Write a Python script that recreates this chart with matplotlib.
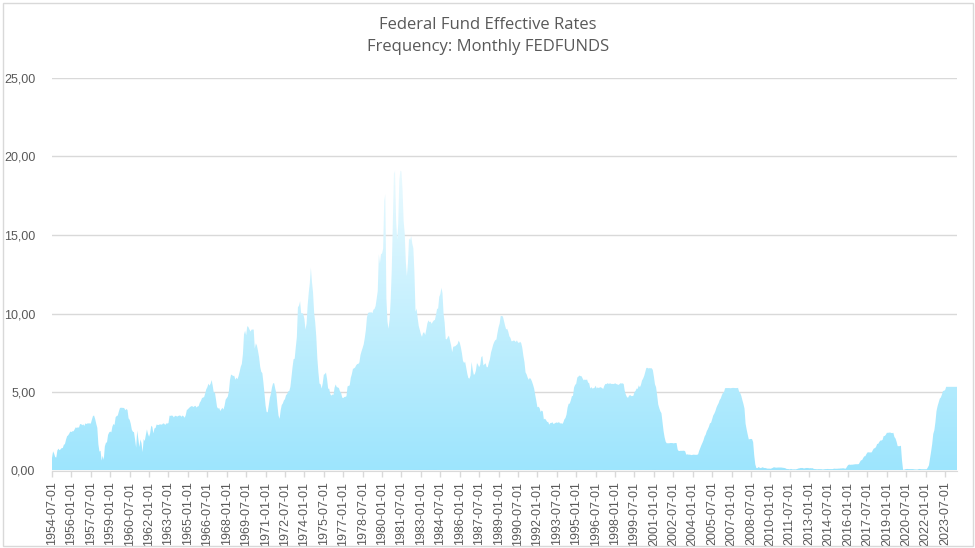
import numpy as np
import pandas as pd
import matplotlib
matplotlib.use("Agg")
import matplotlib.pyplot as plt
from matplotlib.colors import LinearSegmentedColormap
from matplotlib.patches import Rectangle
from matplotlib.ticker import FuncFormatter

# Monthly effective federal funds rate (percent)
fed_1950s = [
    0.80, 1.22, 1.07, 0.85, 0.83, 1.28,
    1.39, 1.29, 1.35, 1.43, 1.43, 1.64, 1.68, 1.96, 2.18, 2.24, 2.35, 2.48,
    2.45, 2.50, 2.50, 2.62, 2.75, 2.71, 2.75, 2.73, 2.95, 2.96, 2.88, 2.94,
    2.84, 3.00, 2.96, 3.00, 3.00, 3.00, 2.99, 3.24, 3.47, 3.50, 3.28, 2.98,
    2.72, 1.67, 1.20, 1.26, 0.63, 0.93, 0.68, 1.53, 1.76, 1.80, 2.27, 2.42,
    2.48, 2.43, 2.80, 2.96, 2.90, 3.39, 3.47, 3.50, 3.76, 3.98, 4.00, 3.99,
]
fed_1960s = [
    3.99, 3.97, 3.84, 3.92, 3.85, 3.32, 3.23, 2.98, 2.60, 2.47, 2.44, 1.98,
    1.45, 2.54, 2.02, 1.49, 1.98, 1.73, 1.17, 2.00, 1.88, 2.26, 2.61, 2.33,
    2.15, 2.37, 2.85, 2.78, 2.36, 2.68, 2.71, 2.93, 2.90, 2.90, 2.94, 2.93,
    2.92, 3.00, 2.98, 2.90, 3.00, 2.99, 3.02, 3.49, 3.48, 3.50, 3.48, 3.38,
    3.48, 3.48, 3.43, 3.47, 3.50, 3.50, 3.42, 3.50, 3.45, 3.36, 3.52, 3.85,
    3.90, 3.98, 4.04, 4.09, 4.10, 4.04, 4.09, 4.12, 4.01, 4.08, 4.10, 4.32,
    4.42, 4.60, 4.65, 4.67, 4.90, 5.17, 5.30, 5.53, 5.40, 5.53, 5.76, 5.40,
    4.94, 5.00, 4.53, 4.05, 3.94, 3.98, 3.79, 3.90, 3.99, 3.88, 4.13, 4.51,
    4.61, 4.71, 5.05, 5.76, 6.11, 6.07, 6.02, 6.03, 5.78, 5.91, 5.82, 6.02,
    6.30, 6.61, 6.79, 7.41, 8.67, 8.90, 8.61, 9.19, 9.15, 9.00, 8.85, 8.97,
]
fed_1970s = [
    8.98, 8.98, 7.76, 8.10, 7.95, 7.61, 7.21, 6.61, 6.29, 6.20, 5.60, 4.90,
    4.14, 3.72, 3.71, 4.16, 4.63, 4.91, 5.31, 5.56, 5.55, 5.20, 4.91, 4.14,
    3.50, 3.29, 3.83, 4.17, 4.27, 4.46, 4.55, 4.80, 4.87, 5.04, 5.06, 5.33,
    5.94, 6.58, 7.09, 7.12, 7.84, 8.49, 10.40, 10.50, 10.78, 10.01, 10.03, 9.95,
    9.65, 8.97, 9.35, 10.51, 11.31, 11.93, 12.92, 12.01, 11.34, 10.06, 9.45, 8.53,
    7.13, 6.24, 5.54, 5.49, 5.22, 5.55, 6.10, 6.14, 6.24, 5.82, 5.22, 5.20,
    4.87, 4.77, 4.84, 4.82, 5.29, 5.48, 5.31, 5.29, 5.25, 5.03, 4.95, 4.65,
    4.61, 4.68, 4.69, 4.73, 5.35, 5.39, 5.42, 5.90, 6.14, 6.47, 6.51, 6.56,
    6.70, 6.78, 6.79, 6.89, 7.36, 7.60, 7.81, 8.04, 8.45, 8.96, 9.76, 10.03,
    10.07, 10.06, 10.09, 10.01, 10.24, 10.29, 10.47, 10.94, 11.43, 13.77, 13.18, 13.78,
]
fed_1980s = [
    13.82, 14.13, 17.19, 17.61, 10.98, 9.47, 9.03, 9.61, 10.87, 12.81, 15.85, 18.90,
    19.08, 15.93, 14.70, 15.72, 18.52, 19.10, 19.04, 17.82, 15.87, 15.08, 13.31, 12.37,
    13.22, 14.78, 14.68, 14.94, 14.45, 14.15, 12.59, 10.12, 10.31, 9.71, 9.20, 8.95,
    8.68, 8.51, 8.77, 8.80, 8.63, 8.98, 9.37, 9.56, 9.45, 9.48, 9.34, 9.47,
    9.56, 9.59, 9.91, 10.29, 10.32, 11.06, 11.23, 11.64, 11.30, 9.99, 9.43, 8.38,
    8.35, 8.50, 8.58, 8.27, 7.97, 7.53, 7.88, 7.90, 7.92, 7.99, 8.05, 8.27,
    8.14, 7.86, 7.48, 6.99, 6.85, 6.92, 6.56, 6.17, 5.89, 5.85, 6.04, 6.91,
    6.43, 6.10, 6.13, 6.37, 6.85, 6.73, 6.58, 6.73, 7.22, 7.29, 6.69, 6.77,
    6.83, 6.58, 6.58, 6.87, 7.09, 7.51, 7.75, 8.01, 8.19, 8.30, 8.35, 8.76,
    9.12, 9.36, 9.85, 9.84, 9.81, 9.53, 9.24, 8.99, 9.02, 8.84, 8.55, 8.45,
]
fed_1990s = [
    8.23, 8.24, 8.28, 8.26, 8.18, 8.29, 8.15, 8.13, 8.20, 8.11, 7.81, 7.31,
    6.91, 6.25, 6.12, 5.91, 5.78, 5.90, 5.82, 5.66, 5.45, 5.21, 4.81, 4.43,
    4.03, 4.06, 3.98, 3.73, 3.82, 3.76, 3.25, 3.30, 3.22, 3.10, 3.09, 2.92,
    3.02, 3.03, 3.07, 2.96, 3.00, 3.04, 3.06, 3.03, 3.09, 2.99, 3.02, 2.96,
    3.05, 3.25, 3.34, 3.56, 4.01, 4.25, 4.26, 4.47, 4.73, 4.76, 5.29, 5.45,
    5.53, 5.92, 5.98, 6.05, 6.01, 6.00, 5.85, 5.74, 5.80, 5.76, 5.80, 5.60,
    5.56, 5.22, 5.31, 5.22, 5.24, 5.27, 5.40, 5.22, 5.30, 5.24, 5.31, 5.29,
    5.25, 5.19, 5.39, 5.51, 5.50, 5.56, 5.52, 5.54, 5.54, 5.50, 5.52, 5.50,
    5.56, 5.51, 5.49, 5.45, 5.49, 5.56, 5.54, 5.55, 5.51, 5.07, 4.83, 4.68,
    4.63, 4.76, 4.81, 4.74, 4.74, 4.76, 4.99, 5.07, 5.22, 5.20, 5.42, 5.30,
]
fed_2000s = [
    5.45, 5.73, 5.85, 6.02, 6.27, 6.53, 6.54, 6.50, 6.52, 6.51, 6.51, 6.40,
    5.98, 5.49, 5.31, 4.80, 4.21, 3.97, 3.77, 3.65, 3.07, 2.49, 2.09, 1.82,
    1.73, 1.74, 1.73, 1.75, 1.75, 1.75, 1.73, 1.74, 1.75, 1.75, 1.34, 1.24,
    1.24, 1.26, 1.25, 1.26, 1.26, 1.22, 1.01, 1.03, 1.01, 1.01, 1.00, 0.98,
    1.00, 1.01, 1.00, 1.00, 1.00, 1.03, 1.26, 1.43, 1.61, 1.76, 1.93, 2.16,
    2.28, 2.50, 2.63, 2.79, 3.00, 3.04, 3.26, 3.50, 3.62, 3.78, 4.00, 4.16,
    4.29, 4.49, 4.59, 4.79, 4.94, 4.99, 5.24, 5.25, 5.25, 5.25, 5.25, 5.24,
    5.25, 5.26, 5.26, 5.25, 5.25, 5.25, 5.26, 5.02, 4.94, 4.76, 4.49, 4.24,
    3.94, 2.98, 2.61, 2.28, 1.98, 2.00, 2.01, 2.00, 1.81, 0.97, 0.39, 0.16,
    0.15, 0.22, 0.18, 0.15, 0.18, 0.21, 0.16, 0.16, 0.15, 0.12, 0.12, 0.12,
]
fed_2010s = [
    0.11, 0.13, 0.16, 0.20, 0.20, 0.18, 0.18, 0.19, 0.19, 0.19, 0.19, 0.18,
    0.17, 0.16, 0.14, 0.10, 0.09, 0.09, 0.07, 0.10, 0.08, 0.07, 0.08, 0.07,
    0.08, 0.10, 0.13, 0.14, 0.16, 0.16, 0.16, 0.13, 0.14, 0.16, 0.16, 0.16,
    0.14, 0.15, 0.14, 0.15, 0.11, 0.09, 0.09, 0.08, 0.08, 0.09, 0.08, 0.09,
    0.07, 0.07, 0.08, 0.09, 0.09, 0.10, 0.09, 0.09, 0.09, 0.09, 0.09, 0.12,
    0.11, 0.11, 0.11, 0.12, 0.12, 0.13, 0.13, 0.14, 0.14, 0.12, 0.12, 0.24,
    0.34, 0.38, 0.36, 0.37, 0.37, 0.38, 0.39, 0.40, 0.40, 0.40, 0.41, 0.54,
    0.65, 0.66, 0.79, 0.90, 0.91, 1.04, 1.15, 1.16, 1.15, 1.15, 1.16, 1.30,
    1.41, 1.42, 1.51, 1.69, 1.70, 1.82, 1.91, 1.91, 1.95, 2.19, 2.20, 2.27,
    2.40, 2.40, 2.41, 2.42, 2.39, 2.38, 2.40, 2.13, 2.04, 1.83, 1.55, 1.55,
]
fed_2020s = [
    1.55, 1.58, 0.65, 0.05, 0.05, 0.08, 0.09, 0.10, 0.09, 0.09, 0.09, 0.09,
    0.09, 0.08, 0.07, 0.07, 0.06, 0.08, 0.10, 0.09, 0.08, 0.08, 0.08, 0.08,
    0.08, 0.08, 0.20, 0.33, 0.77, 1.21, 1.68, 2.33, 2.56, 3.08, 3.78, 4.10,
    4.33, 4.57, 4.65, 4.83, 5.06, 5.08, 5.12, 5.33, 5.33, 5.33, 5.33, 5.33,
    5.33, 5.33, 5.33, 5.33, 5.33, 5.33,
]

rates = np.array(fed_1950s + fed_1960s + fed_1970s + fed_1980s
                 + fed_1990s + fed_2000s + fed_2010s + fed_2020s)
dates = pd.date_range("1954-07-01", periods=len(rates), freq="MS")
label_every = 18

title_lines = ["Federal Fund Effective Rates", "Frequency: Monthly FEDFUNDS"]

W, H = 975, 548
fig = plt.figure(figsize=(W / 100, H / 100), dpi=100)
fig.patch.set_facecolor("white")
fig.patches.append(Rectangle((3 / W, 2 / H), 970 / W, 543 / H, transform=fig.transFigure,
                             fill=False, edgecolor="#d9d9d9", linewidth=1))

ax = fig.add_axes([52 / W, (H - 470.5) / H, 905 / W, 392.5 / H])
x = np.arange(len(rates))

# gradient fill clipped to the area shape
fill = ax.fill_between(x, rates, 0, facecolor="none", edgecolor="none")
cmap = LinearSegmentedColormap.from_list("fedfill", ["#9de5fd", "#eafaff"])
grad = np.linspace(0, 1, 256).reshape(-1, 1)
im = ax.imshow(grad, extent=[0, len(rates) - 1, 0, rates.max()], origin="lower",
               aspect="auto", cmap=cmap, zorder=2, interpolation="bilinear")
im.set_clip_path(fill.get_paths()[0], transform=ax.transData)

ax.set_xlim(0, len(rates) - 1)
ax.set_ylim(0, 25)
ax.set_yticks([0, 5, 10, 15, 20, 25])
ax.yaxis.set_major_formatter(FuncFormatter(lambda v, p: f"{v:.2f}".replace(".", ",")))
ax.grid(axis="y", color="#d9d9d9", linewidth=1)
ax.set_axisbelow(True)

ticks = x[::label_every]
ax.set_xticks(ticks)
ax.set_xticklabels([d.strftime("%Y-%m-%d") for d in dates[::label_every]], rotation=90)

for s in ["top", "right", "left"]:
    ax.spines[s].set_visible(False)
ax.spines["bottom"].set_color("#d9d9d9")
ax.spines["bottom"].set_zorder(3)
ax.tick_params(axis="x", colors="#d9d9d9", length=4, width=1, pad=4,
               labelcolor="#595959", labelsize=9)
ax.tick_params(axis="y", length=0, pad=12, labelcolor="#595959", labelsize=9)
for lab in ax.get_xticklabels() + ax.get_yticklabels():
    lab.set_family("Liberation Sans")

fig.text(488 / W, 1 - 25 / H, title_lines[0], ha="center", va="center",
         fontsize=12, color="#595959", family="Open Sans")
fig.text(488 / W, 1 - 47 / H, title_lines[1], ha="center", va="center",
         fontsize=12, color="#595959", family="Open Sans")

fig.savefig("out.png", dpi=100)
